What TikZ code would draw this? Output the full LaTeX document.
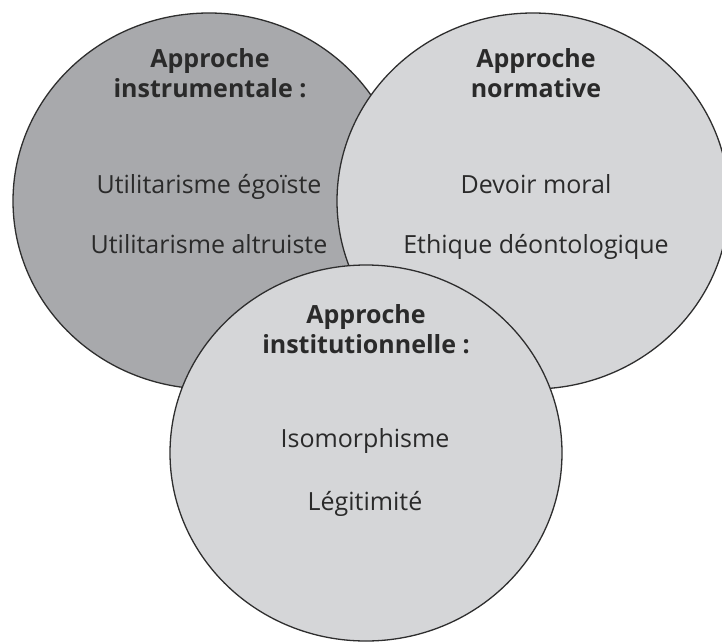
\documentclass[tikz,border=0pt]{standalone}
\usepackage{fontspec}
\setmainfont{Open Sans}
\usetikzlibrary{shapes.geometric}
\definecolor{darkfill}{HTML}{A8A9AC}
\definecolor{lightfill}{HTML}{D5D6D8}
\definecolor{rim}{HTML}{2E2E2E}
\definecolor{ink}{HTML}{2A2A2A}
\begin{document}
\begin{tikzpicture}[x=1pt,y=-1pt,
  disc/.style={ellipse, draw=rim, line width=1.3pt, minimum width=392pt,
    minimum height=376pt, inner sep=0pt},
  headline/.style={anchor=base, text=ink, inner sep=0pt,
    font=\fontsize{25}{30}\selectfont\bfseries},
  item/.style={anchor=base, text=ink, inner sep=0pt,
    font=\fontsize{25}{30}\selectfont}]
\clip (0,0) rectangle (722,642);
\fill[white] (0,0) rectangle (722,642);

% the three approaches, drawn back to front
\node[disc, fill=darkfill]  (instr) at (209,201) {};
\node[disc, fill=lightfill] (norm)  at (533,201) {};
\node[disc, fill=lightfill] (inst)  at (366,453) {};

% instrumental approach
\node[headline] (instrA) at (210,67) {Approche};
\node[headline] (instrB) at (210,97) {instrumentale~:};
\node[item] (egoiste)   at (209,193) {Utilitarisme égoïste};
\node[item] (altruiste) at (209,253) {Utilitarisme altruiste};

% normative approach
\node[headline] (normA) at (536,67) {Approche};
\node[headline] (normB) at (536,97) {normative};
\node[item] (devoir) at (536,193) {Devoir moral};
\node[item] (ethique) at (536,253) {Ethique déontologique};

% institutional approach
\node[headline] (instA) at (366,323) {Approche};
\node[headline] (instB) at (366,353) {institutionnelle~:};
\node[item] (iso) at (365,447) {Isomorphisme};
\node[item] (legit) at (365,510) {Légitimité};
\end{tikzpicture}
\end{document}
